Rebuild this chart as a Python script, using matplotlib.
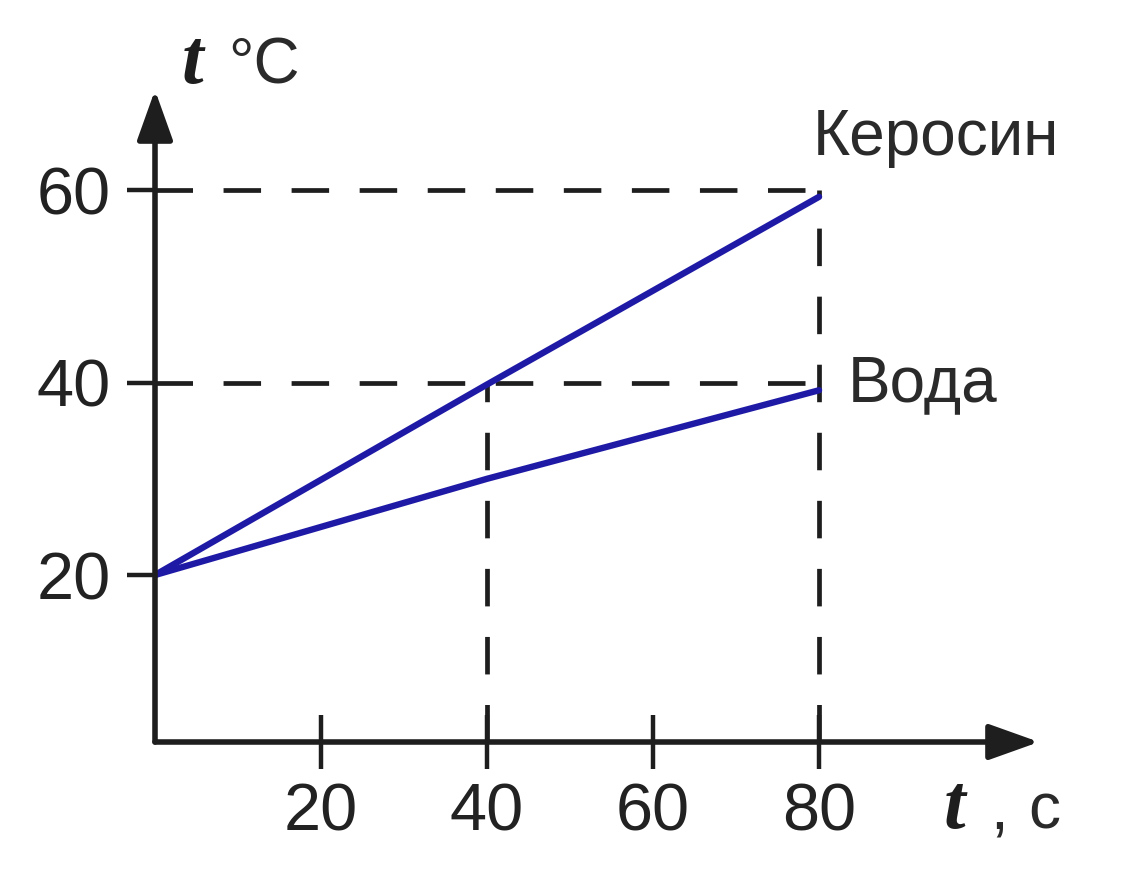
import matplotlib
matplotlib.use("Agg")
import matplotlib.pyplot as plt

# time, s
time_s = [0, 40, 80]
# temperature, °C
kerosene = [20, 39.8, 59.3]
water = [20, 30.0, 39.2]

x_ticks = [20, 40, 60, 80]
y_ticks = [20, 40, 60]
guide_levels = [(40, 40), (80, 60)]

W, H = 1126, 888
plt.rcParams['font.family'] = ['Liberation Sans', 'DejaVu Sans']
plt.rcParams['lines.scale_dashes'] = False

fig = plt.figure(figsize=(W / 100, H / 100), dpi=100)
fig.patch.set_facecolor('white')

x0, x1 = 155, 1039
y0, y1 = 742, 90
ax = fig.add_axes((x0 / W, 1 - y0 / H, (x1 - x0) / W, (y0 - y1) / H))
ax.set_xlim(0, 106.5)
ax.set_ylim(2.65, 70.4)
ax.patch.set_alpha(0)
for s in ax.spines.values():
    s.set_visible(False)

ink = '#1e1e1e'
blue = '#1f1aa6'

# axes with arrows
arrow = dict(arrowstyle='-|>,head_length=1.4,head_width=0.5', lw=4.0,
             color=ink, shrinkA=0, shrinkB=0, mutation_scale=22)
ax.annotate('', xy=(1, 0), xytext=(0, 0), xycoords='axes fraction',
            arrowprops=arrow)
ax.annotate('', xy=(0, 1), xytext=(0, 0), xycoords='axes fraction',
            arrowprops=arrow)

# dashed guides
ylo = ax.get_ylim()[0]
for gx, gy in guide_levels:
    ax.plot([0, 80], [gy, gy], color=ink, lw=3.4, dashes=(27, 22),
            dash_capstyle='butt')
    ax.plot([gx, gx], [ylo, gy], color=ink, lw=3.4, dashes=(27, 22),
            dash_capstyle='butt')

ax.plot(time_s, kerosene, color=blue, lw=4.6, solid_capstyle='round')
ax.plot(time_s, water, color=blue, lw=4.6, solid_capstyle='round')

ax.set_xticks(x_ticks)
ax.set_yticks(y_ticks)
ax.tick_params(axis='x', direction='inout', length=39, width=3.2,
               color=ink, pad=10, labelsize=48, labelcolor='#222222')
ax.tick_params(axis='y', direction='out', length=20, width=3.2,
               color=ink, pad=12, labelsize=48, labelcolor='#222222')

# curve labels
ax.text(79.3, 65.4, 'Керосин', fontsize=46, color='#2a2a2a',
        va='center', ha='left', clip_on=False)
ax.text(83.4, 39.8, 'Вода', fontsize=46, color='#2a2a2a',
        va='center', ha='left', clip_on=False)

# axis labels
fig.text(182 / W, 1 - 83 / H, 't', fontsize=56, fontweight='bold',
         style='italic', family='Liberation Serif', color=ink, va='baseline')
fig.text(228 / W, 1 - 83 / H, '°C', fontsize=46, color='#2a2a2a',
         va='baseline')
fig.text(944 / W, 1 - 828 / H, 't', fontsize=56, fontweight='bold',
         style='italic', family='Liberation Serif', color=ink, va='baseline')
fig.text(990 / W, 1 - 828 / H, ',', fontsize=46, color='#2a2a2a',
         va='baseline')
fig.text(1028 / W, 1 - 828 / H, 'c', fontsize=46, color='#2a2a2a',
         va='baseline')

fig.savefig('out.png', dpi=100, facecolor='white')
